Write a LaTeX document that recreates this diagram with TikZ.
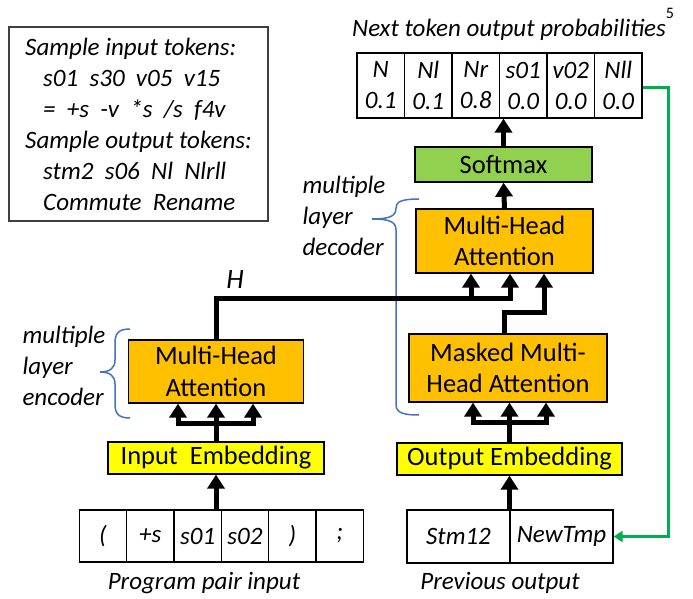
\documentclass[tikz,border=0pt]{standalone}
\usepackage{fontspec}
\setmainfont{Carlito}
\usetikzlibrary{arrows.meta,positioning}
\definecolor{attnorange}{HTML}{FFC000}
\definecolor{softgreen}{HTML}{92D050}
\definecolor{embyellow}{HTML}{FFFF00}
\definecolor{braceblue}{HTML}{4472C4}
\definecolor{loopgreen}{HTML}{00B050}
\newcommand{\bodysize}{\fontsize{25}{31}\selectfont}
\newcommand{\blocksize}{\fontsize{26.5}{31.5}\selectfont}
\tikzset{
  itext/.style={font=\bodysize\itshape},
  block/.style={draw, line width=1.3pt, inner sep=0pt, align=center, font=\blocksize},
  attn/.style={block, fill=attnorange},
  embed/.style={block, fill=embyellow},
  cell/.style={draw, line width=1.3pt, inner sep=0pt, align=center, itext},
  fat/.style={line width=5pt, -{Triangle[length=14pt,width=17pt]}},
  feedback/.style={draw=loopgreen, line width=3pt, -{Triangle[length=9pt,width=11pt]}},
  brace/.style={draw=braceblue, line width=1.5pt},
}
\begin{document}
\begin{tikzpicture}[x=1pt,y=1pt,font=\bodysize]
	\useasboundingbox (0,0) rectangle (693,598);
	% sample tokens
	\node[draw=black!75, line width=1.2pt, minimum width=259pt, minimum height=194pt, align=left, itext] (samples) at (138.5,474)
	{Sample input tokens:\\
	\hspace*{18pt}s01~~s30~~v05~~v15\\
	\hspace*{18pt}=~~+s~~-v~~*s~~/s~~f4v\\
	Sample output tokens:\\
	\hspace*{18pt}stm2~~s06~~Nl~~Nlrll\\
	\hspace*{18pt}Commute~~Rename};
	% output probabilities
	\foreach \tok/\pr [count=\i] in {N/0.1, Nl/0.1, Nr/0.8, s01/0.0, v02/0.0, Nll/0.0}
		\node[cell, minimum width=47.5pt, minimum height=65pt] (p\i) at (333.25+47.5*\i,512.5) {\tok\\\pr};
	\node[itext] (probtitle) at (509,568) {Next token output probabilities};
	\node[font=\fontsize{16}{16}\selectfont] (pagemark) at (670,585) {5};
	% decoder
	\node[block, fill=softgreen, minimum width=177pt, minimum height=35pt] (soft) at (503.5,433.5) {Softmax};
	\node[attn, minimum width=177pt, minimum height=64pt] (dmha) at (504.5,357) {Multi-Head\\Attention};
	\node[attn, minimum width=198pt, minimum height=68pt] (mmha) at (508,230) {Masked Multi-\\Head Attention};
	\node[embed, minimum width=225pt, minimum height=32pt] (oe) at (509.5,139) {Output Embedding};
	\node[cell, minimum width=103pt, minimum height=53pt] (n1) at (458.5,61.5) {Stm12};
	\node[cell, minimum width=103pt, minimum height=53pt] (n2) at (561.5,61.5) {NewTmp};
	\node[itext] (prevtitle) at (500,15) {Previous output};
	% encoder
	\node[attn, minimum width=175pt, minimum height=63pt] (emha) at (216,226.5) {Multi-Head\\Attention};
	\node[embed, minimum width=216pt, minimum height=32pt] (ie) at (216,140) {Input~~Embedding};
	\foreach \tok [count=\i] in {{(},{+s},{s01},{s02},{)},{;}}
		\node[cell, minimum width=47.33pt, minimum height=52pt] (c\i) at (55.67+47.33*\i,62) {\tok};
	\node[itext] (progtitle) at (204,15) {Program pair input};
	% labels and braces
	\node[font=\fontsize{28}{31}\selectfont\itshape] (hlabel) at (235,318) {H};
	\node[align=left, anchor=west, itext] (enclabel) at (19,232) {multiple\\layer\\encoder};
	\node[align=left, anchor=west, itext] (declabel) at (299,382) {multiple\\layer\\decoder};
	\draw[brace] (130,269) .. controls (119,269) and (115,265) .. (115,255) -- (115,238)
		.. controls (115,230) and (110,226) .. (100,226) .. controls (110,226) and (115,222) .. (115,214)
		-- (115,194) .. controls (115,184) and (119,180) .. (130,180);
	\draw[brace] (419,399) .. controls (401,399) and (396,396) .. (396,390)
		.. controls (396,382) and (390,379) .. (372,379) .. controls (390,379) and (396,376) .. (396,368)
		-- (396,194) .. controls (396,186) and (401,183) .. (419,183);
	% connectors
	\coordinate (hbus) at (0,300);
	\coordinate (ein1) at ([xshift=-38pt]emha.south);
	\coordinate (ein3) at ([xshift=37pt]emha.south);
	\coordinate (din1) at ([xshift=-33.5pt]dmha.south);
	\coordinate (din2) at ([xshift=5.5pt]dmha.south);
	\coordinate (din3) at ([xshift=39.5pt]dmha.south);
	\coordinate (min1) at ([xshift=-35pt]mmha.south);
	\coordinate (min3) at ([xshift=38pt]mmha.south);
	\draw[fat] (ie.south |- c1.north) -- (ie.south);
	\draw[fat] (ie.north) -- ++(0,18) -| (ein1);
	\draw[fat] (ie.north) -- ++(0,18) -| (ein3);
	\draw[fat] (ie.north) -- (emha.south);
	\draw[fat] (oe.south |- n1.north) -- (oe.south);
	\draw[fat] (oe.north) -- ++(0,20) -| (min1);
	\draw[fat] (oe.north) -- ++(0,20) -| (min3);
	\draw[fat] (oe.north) -- (oe.north |- mmha.south);
	\draw[fat] (emha.north) |- (din2 |- hbus) -- (din2);
	\draw[fat] (din1 |- hbus) -- (din1);
	\draw[fat] ([xshift=-4pt]mmha.north) -- ++(0,21) -| (din3);
	\draw[fat] (dmha.north) -- (soft.south);
	\draw[fat] (soft.north) -- (soft.north |- p1.south);
	\draw[feedback] ([yshift=-2pt]p6.east) -- ++(26,0) |- (n2.east);
\end{tikzpicture}
\end{document}
